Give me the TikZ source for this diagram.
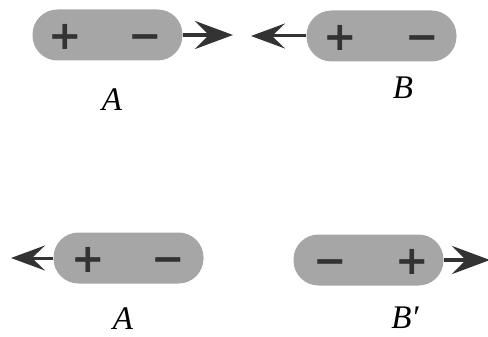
\documentclass[tikz,border=0pt]{standalone}
\usepackage{fontspec}
\setmainfont{Liberation Serif}
\newfontfamily\signfont{DejaVu Sans}
\usetikzlibrary{arrows.meta}
\tikzset{
  pill/.style={draw=none, fill=gray!70, rounded corners=25pt, minimum width=150pt, minimum height=51pt, inner sep=0pt},
  sign/.style={text=black!80, font=\signfont\bfseries\fontsize{40}{40}\selectfont, inner sep=0pt, anchor=base, yshift=-14.4pt},
  lbl/.style={font=\itshape\fontsize{33}{36}\selectfont, inner sep=0pt},
  thickarrow/.style={draw=black!80, line width=4.5pt, -{Stealth[length=38pt, width=28pt, inset=14pt]}},
  thinarrow/.style={draw=black!80, line width=3pt, -{Stealth[length=34pt, width=25pt, inset=13pt]}},
}
\begin{document}
\begin{tikzpicture}[x=1pt,y=-1pt]
\useasboundingbox (0,0) rectangle (488,337);
% top A
\node[pill] (pa) at (107.5,35) {};
\node[sign] (pap) at (65,35) {+};
\node[sign] (pam) at (145,35) {−};
\coordinate (ta) at (233,35);
\draw[thickarrow] (pa.east) -- (ta);
\node[lbl] (la) at (112,100) {A};
% top B
\node[pill] (pb) at (381.5,36) {};
\node[sign] (pbp) at (340,36) {+};
\node[sign] (pbm) at (422,36) {−};
\coordinate (tb) at (251,36);
\draw[thinarrow] (pb.west) -- (tb);
\node[lbl] (lb) at (403,88) {B};
% bottom A
\node[pill] (qa) at (128.5,258) {};
\node[sign] (qap) at (88,258) {+};
\node[sign] (qam) at (168,258) {−};
\coordinate (sa) at (11,258);
\draw[thinarrow] (qa.west) -- (sa);
\node[lbl] (qla) at (123,319) {A};
% bottom B'
\node[pill] (qb) at (368.5,260) {};
\node[sign] (qbm) at (330,260) {−};
\coordinate (sb) at (490,260);
\node[sign] (qbp) at (412,260) {+};
\draw[thickarrow] (qb.east) -- (sb);
\node[lbl] (qlb) at (405,318) {B′};
\end{tikzpicture}
\end{document}
